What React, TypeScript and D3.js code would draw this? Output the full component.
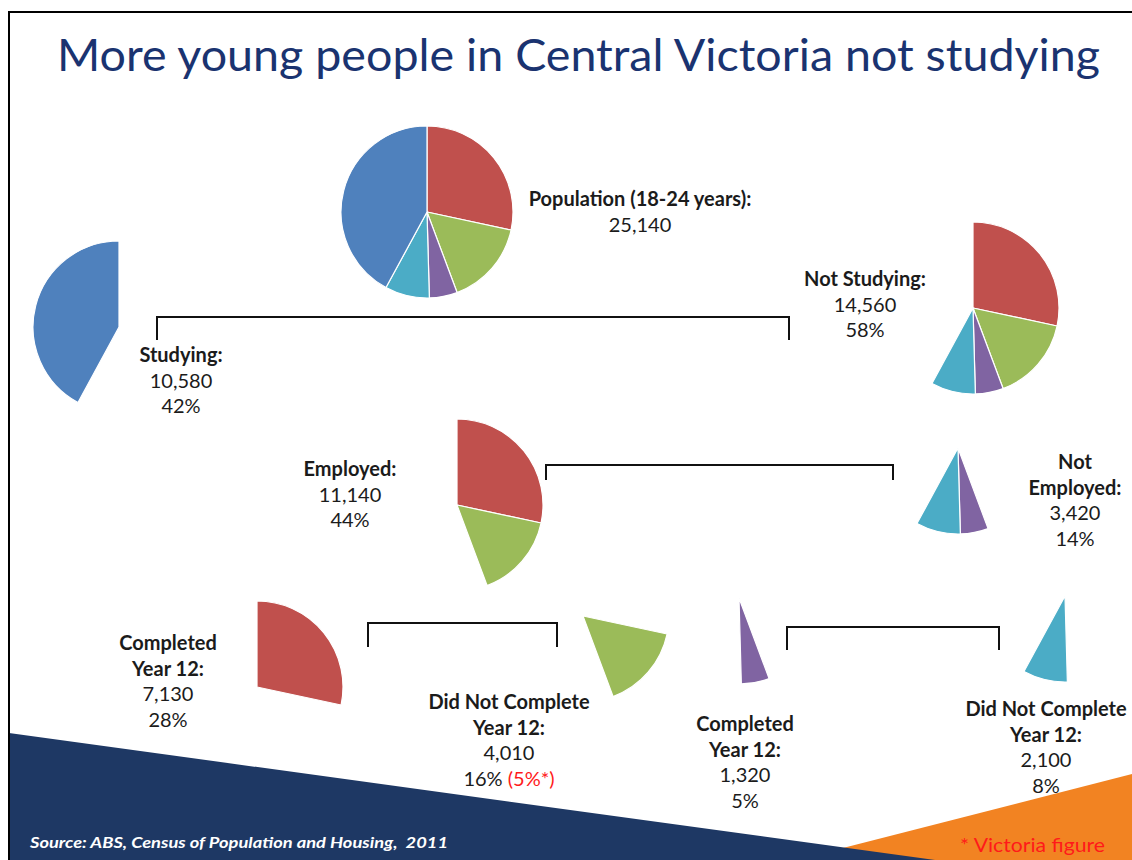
import React from "react";
import * as d3 from "d3";

// ---- Data ----
const sliceNames = [
  "Employed, Completed Year 12",
  "Employed, Did Not Complete Year 12",
  "Not Employed, Completed Year 12",
  "Not Employed, Did Not Complete Year 12",
  "Studying",
];
const sliceValues = [7130, 4010, 1320, 2100, 10580];
const sliceColors = ["#C0504D", "#9BBB59", "#8064A2", "#4BACC6", "#4F81BD"];
const victoriaFigureText = "(5%*)";
const titleText = "More young people in Central Victoria not studying";
const sourceText = "Source: ABS, Census of Population and Housing,  2011";
const noteText = "* Victoria figure";

// ---- Layout ----
const W = 1132;
const H = 860;
const R = 86;
const groups = [
  { slices: [0, 1, 2, 3, 4], cx: 427, cy: 212 },
  { slices: [4], cx: 119, cy: 327 },
  { slices: [0, 1, 2, 3], cx: 973, cy: 308 },
  { slices: [0, 1], cx: 457, cy: 505 },
  { slices: [2, 3], cx: 958, cy: 448 },
  { slices: [0], cx: 257, cy: 687 },
  { slices: [1], cx: 583, cy: 616 },
  { slices: [2], cx: 739, cy: 598 },
  { slices: [3], cx: 1065, cy: 596 },
];
const labels = [
  { title: ["Population (18-24 years):"], slices: [0, 1, 2, 3, 4], x: 640, y: 206, pct: false, extra: "" },
  { title: ["Studying:"], slices: [4], x: 181, y: 362, pct: true, extra: "" },
  { title: ["Not Studying:"], slices: [0, 1, 2, 3], x: 865, y: 286, pct: true, extra: "" },
  { title: ["Employed:"], slices: [0, 1], x: 350, y: 476, pct: true, extra: "" },
  { title: ["Not", "Employed:"], slices: [2, 3], x: 1075, y: 469, pct: true, extra: "" },
  { title: ["Completed", "Year 12:"], slices: [0], x: 168, y: 650, pct: true, extra: "" },
  { title: ["Did Not Complete", "Year 12:"], slices: [1], x: 509, y: 709, pct: true, extra: victoriaFigureText },
  { title: ["Completed", "Year 12:"], slices: [2], x: 745, y: 731, pct: true, extra: "" },
  { title: ["Did Not Complete", "Year 12:"], slices: [3], x: 1046, y: 716, pct: true, extra: "" },
];
const brackets = [
  { x1: 157, x2: 789, top: 317, bottom: 340 },
  { x1: 546, x2: 893, top: 465, bottom: 480 },
  { x1: 368, x2: 557, top: 623, bottom: 647 },
  { x1: 787, x2: 999, top: 627, bottom: 650 },
];

const FONT = "Lato, 'Open Sans', sans-serif";
const LH = 25.5;

export default function App() {
  const total = d3.sum(sliceValues);
  const arcsData = d3
    .pie<number>()
    .sort(null)
    .value((d) => d)(sliceValues);
  const arc = d3.arc<d3.PieArcDatum<number>>().innerRadius(0).outerRadius(R);
  const fmt = d3.format(",");

  return (
    <svg
      width={W}
      height={H}
      style={{ position: "absolute", left: 0, top: 0, background: "#fff" }}
      fontFamily={FONT}
    >
      <rect x={0} y={0} width={W} height={H} fill="#fff" />

      {/* decorative bands */}
      <polygon points={`796,${H} ${W},774 ${W},${H}`} fill="#F28322" />
      <polygon points={`9,733 935,${H} 9,${H}`} fill="#1E3864" />

      {/* frame */}
      <path d={`M9,${H} V12 H${W}`} fill="none" stroke="#000" strokeWidth={2} />

      {/* title */}
      <text
        x={57}
        y={71}
        fontSize={45}
        fill="#1A3370"
        textLength={1043}
        lengthAdjust="spacingAndGlyphs"
      >
        {titleText}
      </text>

      {/* pies */}
      {groups.map((g, gi) => (
        <g key={gi} transform={`translate(${g.cx},${g.cy})`}>
          {g.slices.map((si) => (
            <path
              key={si}
              d={arc(arcsData[si]) || ""}
              fill={sliceColors[si]}
              stroke="#fff"
              strokeWidth={1.2}
              strokeLinejoin="round"
            >
              <title>{sliceNames[si]}</title>
            </path>
          ))}
        </g>
      ))}

      {/* brackets */}
      {brackets.map((b, i) => (
        <path
          key={i}
          d={`M${b.x1},${b.bottom} V${b.top} H${b.x2} V${b.bottom}`}
          fill="none"
          stroke="#111"
          strokeWidth={2}
        />
      ))}

      {/* labels */}
      {labels.map((l, i) => {
        const v = d3.sum(l.slices.map((s) => sliceValues[s]));
        const p = Math.round((v / total) * 100);
        let line = 0;
        return (
          <text key={i} textAnchor="middle" fontSize={20} fill="#1b1b1b">
            {l.title.map((t, ti) => (
              <tspan key={ti} x={l.x} y={l.y + LH * line++} fontWeight="bold">
                {t}
              </tspan>
            ))}
            <tspan x={l.x} y={l.y + LH * line++}>
              {fmt(v)}
            </tspan>
            {l.pct && (
              <tspan x={l.x} y={l.y + LH * line++}>
                {`${p}%`}
                {l.extra && (
                  <tspan fill="#FF1A1A">{" " + l.extra}</tspan>
                )}
              </tspan>
            )}
          </text>
        );
      })}

      {/* source and note */}
      <text
        x={30}
        y={848}
        fontSize={16}
        fontStyle="italic"
        fontWeight="bold"
        fill="#fff"
        textLength={418}
        lengthAdjust="spacingAndGlyphs"
        style={{ whiteSpace: "pre" }}
      >
        {sourceText}
      </text>
      <text x={960} y={852} fontSize={19} fill="#FF1A1A" textLength={145} lengthAdjust="spacingAndGlyphs">
        {noteText}
      </text>
    </svg>
  );
}
